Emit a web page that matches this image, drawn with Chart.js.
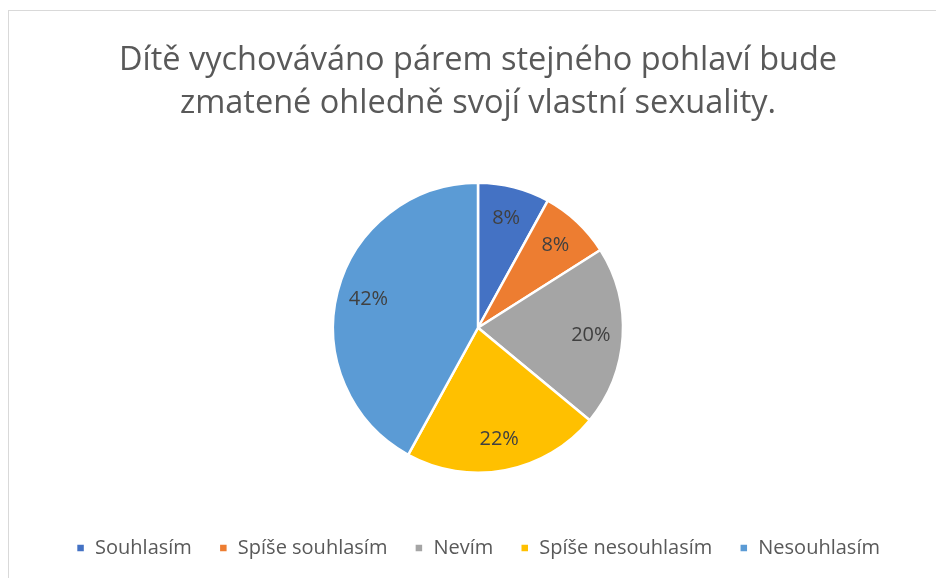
<!DOCTYPE html>
<html lang="cs">
<head>
<meta charset="UTF-8">
<title>Pie</title>
<script src="https://cdn.jsdelivr.net/npm/chart.js"></script>
<style>
    body {
        margin: 0;
        padding: 0;
        width: 936px;
        height: 578px;
        overflow: hidden;
        background: #fff;
        position: relative;
    }
    .frame {
        position: absolute;
        left: 8px;
        top: 10px;
        width: 1000px;
        height: 1000px;
        border: 1px solid #d9d9d9;
    }
    .wrap {
        position: absolute;
        left: 8px;
        top: 10px;
        width: 940px;
        height: 568px;
    }
</style>
</head>
<body>
<div class="frame"></div>
<div class="wrap"><canvas id="pieChart"></canvas></div>
<script>
    const categories = ['Souhlasím', 'Spíše souhlasím', 'Nevím', 'Spíše nesouhlasím', 'Nesouhlasím'];
    const shares = [8, 8, 20, 22, 42];
    const sliceColors = ['#4472C4', '#ED7D31', '#A5A5A5', '#FFC000', '#5B9BD5'];
    const titleLines = ['Dítě vychováváno párem stejného pohlaví bude', 'zmatené ohledně svojí vlastní sexuality.'];

    const FONT = "'Open Sans', sans-serif";

    // percent labels inside the slices
    const sliceLabels = {
        id: 'sliceLabels',
        afterDatasetsDraw(chart) {
            const ctx = chart.ctx;
            const arcs = chart.getDatasetMeta(0).data;
            ctx.save();
            ctx.font = '20px ' + FONT;
            ctx.fillStyle = '#404040';
            ctx.textAlign = 'center';
            ctx.textBaseline = 'middle';
            arcs.forEach((arc, i) => {
                const p = arc.getProps(['x', 'y', 'startAngle', 'endAngle', 'outerRadius']);
                const mid = (p.startAngle + p.endAngle) / 2;
                const r = p.outerRadius * 0.78;
                ctx.fillText(shares[i] + '%', p.x + Math.cos(mid) * r, p.y + Math.sin(mid) * r);
            });
            ctx.restore();
        }
    };

    new Chart(document.getElementById('pieChart'), {
        type: 'pie',
        data: {
            labels: categories,
            datasets: [{
                data: shares,
                backgroundColor: sliceColors,
                borderColor: '#ffffff',
                borderWidth: 2.5,
                radius: 145
            }]
        },
        options: {
            responsive: true,
            maintainAspectRatio: false,
            animation: false,
            layout: { padding: { bottom: 10 } },
            plugins: {
                title: {
                    display: true,
                    text: titleLines,
                    color: '#595959',
                    font: { family: FONT, size: 32.5, weight: 'normal', lineHeight: 1.3 },
                    padding: { top: 30, bottom: 20 }
                },
                legend: {
                    position: 'bottom',
                    labels: {
                        color: '#595959',
                        font: { family: FONT, size: 20 },
                        boxWidth: 9,
                        boxHeight: 9,
                        padding: 27
                    }
                },
                tooltip: { enabled: false }
            }
        },
        plugins: [sliceLabels]
    });
</script>
</body>
</html>
